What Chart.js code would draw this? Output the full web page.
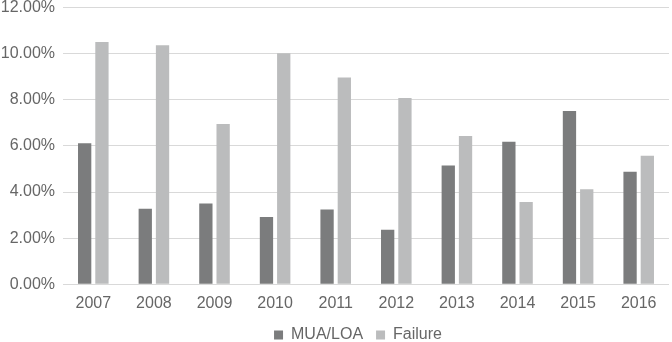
<!DOCTYPE html>
<html>
<head>
<meta charset="utf-8">
<script src="https://cdn.jsdelivr.net/npm/chart.js@4"></script>
<style>
  html, body { margin: 0; padding: 0; background: #fff; }
  #wrap { width: 672px; height: 342px; }
</style>
</head>
<body>
<div id="wrap"><canvas id="chart" width="672" height="342"></canvas></div>
<script>
// Data (percent)
const years = ["2007", "2008", "2009", "2010", "2011", "2012", "2013", "2014", "2015", "2016"]
const muaLoa = [6.12, 3.28, 3.5, 2.92, 3.24, 2.36, 5.15, 6.18, 7.51, 4.88]
const failure = [10.5, 10.36, 6.95, 10.02, 8.96, 8.08, 6.43, 3.57, 4.12, 5.57]

const textColor = "#666666"
const font = { family: "'Liberation Sans', Arial, sans-serif", size: 16 }

// legend sits centred under the plot area, not the whole canvas
const centerLegend = {
  id: "centerLegend",
  afterLayout(chart) {
    const lg = chart.legend
    const shift = (chart.chartArea.left + chart.chartArea.right) / 2 - (lg.left + lg.right) / 2 - 8
    lg.left += shift
    lg.right += shift
  },
}

new Chart(document.getElementById("chart"), {
  type: "bar",
  data: {
    labels: years,
    datasets: [
      { label: "MUA/LOA", data: muaLoa, backgroundColor: "#7b7c7d" },
      { label: "Failure", data: failure, backgroundColor: "#bbbcbd" },
    ],
  },
  plugins: [centerLegend],
  options: {
    responsive: false,
    animation: false,
    categoryPercentage: 0.57,
    barPercentage: 0.77,
    layout: { padding: { top: 0, right: 3, left: 0, bottom: -11 } },
    plugins: {
      tooltip: { enabled: false },
      legend: {
        position: "bottom",
        labels: {
          color: textColor,
          font: font,
          boxWidth: 9,
          boxHeight: 9,
          padding: 13,
        },
      },
    },
    scales: {
      x: {
        grid: { display: false },
        border: { display: false },
        ticks: { color: textColor, font: font, padding: 2 },
        afterFit: (scale) => {
          scale.height -= 1.5
        },
      },
      y: {
        min: 0,
        max: 12,
        border: { display: false },
        grid: { color: "#d9d9d9", drawTicks: false },
        ticks: {
          stepSize: 2,
          color: textColor,
          font: font,
          padding: 8,
          callback: (v) => v.toFixed(2) + "%",
        },
        afterFit: (scale) => {
          scale.width = 63
          scale.paddingTop = 7.5
        },
      },
    },
  },
})
</script>
</body>
</html>
